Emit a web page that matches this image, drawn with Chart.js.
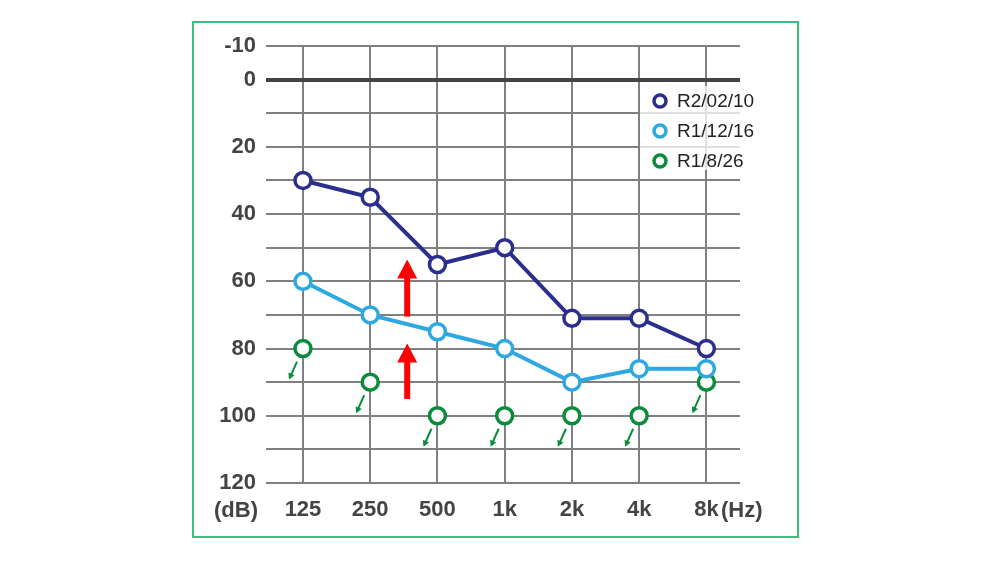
<!DOCTYPE html>
<html><head><meta charset="utf-8">
<script src="https://cdn.jsdelivr.net/npm/chart.js@4"></script>
<style>
html,body{margin:0;padding:0;background:#fff;}
#wrap{position:relative;width:1000px;height:563px;}
#frame{position:absolute;left:192px;top:21px;width:603px;height:513px;border:2px solid #3cc07f;}
canvas{position:absolute;left:0;top:0;}
</style></head><body>
<div id="wrap"><div id="frame"></div><canvas id="c" width="1000" height="563"></canvas></div>
<script>
const freqLabels = ['125','250','500','1k','2k','4k','8k'];
const seriesNames = ['R2/02/10','R1/12/16','R1/8/26'];
const r2_02_10 = [30,35,55,50,71,71,80];
const r1_12_16 = [60,70,75,80,90,86,86];
const r1_8_26 = [80,90,100,100,100,100,90];
const yLabelValues = [-10,0,20,40,60,80,100,120];
const colors = ['#2b2e8c','#2ea8e0','#0a8c3c'];

const toXY = arr => arr.map((v,i)=>({x:i,y:v}));
const font = "'Liberation Sans', Arial, sans-serif";

const extras = {
  id:'extras',
  afterDatasetsDraw(chart){
    const {ctx, scales:{x,y}} = chart;
    ctx.save();
    // green arrows
    ctx.strokeStyle = colors[2]; ctx.fillStyle = colors[2]; ctx.lineWidth = 2;
    r1_8_26.forEach((v,i)=>{
      const px = x.getPixelForValue(i), py = y.getPixelForValue(v);
      const x1 = px-6, y1 = py+13, x2 = px-14, y2 = py+31;
      const ang = Math.atan2(y2-y1,x2-x1);
      ctx.beginPath(); ctx.moveTo(x1,y1); ctx.lineTo(x2-3*Math.cos(ang),y2-3*Math.sin(ang)); ctx.stroke();
      ctx.beginPath(); ctx.moveTo(x2,y2);
      ctx.lineTo(x2-7*Math.cos(ang-0.5),y2-7*Math.sin(ang-0.5));
      ctx.lineTo(x2-7*Math.cos(ang+0.5),y2-7*Math.sin(ang+0.5));
      ctx.closePath(); ctx.fill();
    });
    // red arrows
    ctx.fillStyle = '#ff0000';
    [[70.5,53.5],[95,78.5]].forEach(([b,t])=>{
      const px = x.getPixelForValue(1.55), pb = y.getPixelForValue(b), pt = y.getPixelForValue(t);
      ctx.fillRect(px-3, pt+16, 6, pb-pt-16);
      ctx.beginPath(); ctx.moveTo(px,pt); ctx.lineTo(px+10,pt+19); ctx.lineTo(px-10,pt+19); ctx.closePath(); ctx.fill();
    });
    // axis unit labels
    ctx.fillStyle = '#444'; ctx.font = "bold 22px "+font; ctx.textBaseline='middle';
    ctx.textAlign='right'; ctx.fillText('(dB)', 258, 511);
    ctx.textAlign='left'; ctx.fillText('(Hz)', 721, 511);
    // legend
    ctx.fillStyle = 'rgba(255,255,255,0.75)';
    ctx.fillRect(640, 86, 100, 84);
    ctx.font = "19px "+font; ctx.textAlign='left';
    seriesNames.forEach((n,i)=>{
      const cy = 101 + i*30;
      ctx.beginPath(); ctx.arc(660, cy, 6, 0, Math.PI*2);
      ctx.fillStyle='#fff'; ctx.fill(); ctx.lineWidth=3.5; ctx.strokeStyle=colors[i]; ctx.stroke();
      ctx.fillStyle='#222'; ctx.fillText(n, 677, cy+1);
    });
    ctx.restore();
  }
};

const mk = (label, data, c, line) => ({label, data: toXY(data), borderColor:c, backgroundColor:'#fff',
  pointBackgroundColor:'#fff', pointBorderColor:c, pointRadius:8, pointBorderWidth:3.5,
  borderWidth:4, showLine:line, tension:0});

new Chart(document.getElementById('c'), {
  type:'scatter',
  data:{datasets:[
    mk(seriesNames[0], r2_02_10, colors[0], true),
    mk(seriesNames[1], r1_12_16, colors[1], true),
    mk(seriesNames[2], r1_8_26, colors[2], false)
  ]},
  options:{
    responsive:false, animation:false, devicePixelRatio:1,
    layout:{padding:{left:180,right:260,top:46,bottom:0}},
    plugins:{legend:{display:false}, tooltip:{enabled:false}},
    scales:{
      x:{type:'linear', min:-0.55, max:6.5,
        afterBuildTicks(s){ s.ticks = freqLabels.map((_,i)=>({value:i})); },
        afterFit(s){ s.height = 80; },
        grid:{color:'#808080', lineWidth:2, drawTicks:false},
        border:{display:false},
        ticks:{padding:14, color:'#444', font:{family:font, size:22, weight:'bold'},
          callback:(v)=>freqLabels[v] ?? ''}
      },
      y:{type:'linear', reverse:true, min:-10, max:120,
        afterBuildTicks(s){ const t=[]; for(let v=-10; v<=120; v+=10) t.push({value:v}); s.ticks=t; },
        afterFit(s){ s.width = 86; },
        grid:{drawTicks:false,
          color:(c)=>c.tick && c.tick.value===0 ? '#444' : '#808080',
          lineWidth:(c)=>c.tick && c.tick.value===0 ? 4 : 2},
        border:{display:false},
        ticks:{padding:10, color:'#444', font:{family:font, size:22, weight:'bold'},
          callback:(v)=> yLabelValues.includes(v) ? String(v) : ''}
      }
    }
  },
  plugins:[extras]
});
</script></body></html>
